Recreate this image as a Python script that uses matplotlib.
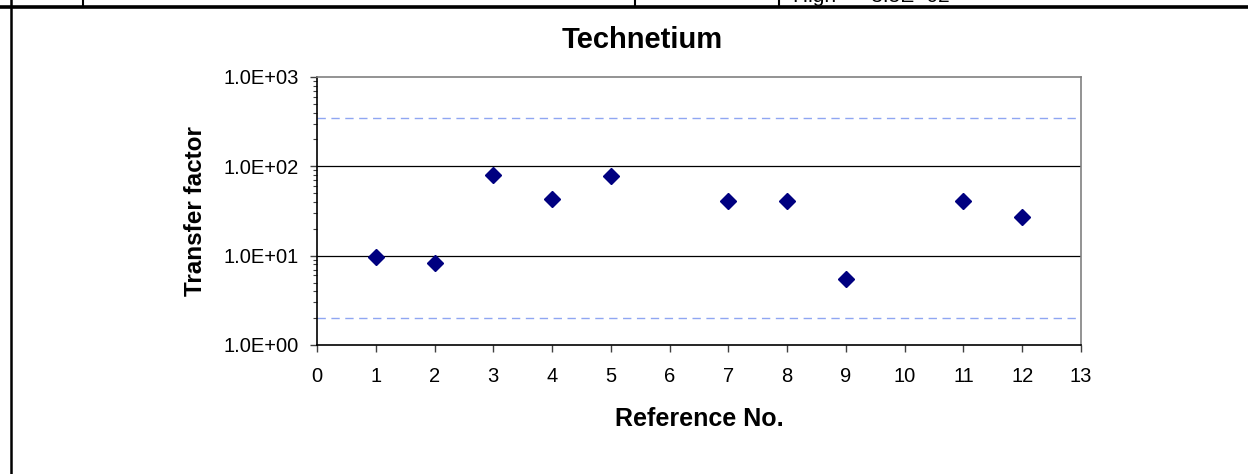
"""Technetium transfer factors vs reference number (log scale), with low/high limits."""

import matplotlib
matplotlib.use("Agg")
import matplotlib.pyplot as plt                 # noqa: E402
from matplotlib.lines import Line2D             # noqa: E402
from matplotlib.ticker import LogLocator, FixedLocator, NullFormatter  # noqa: E402

plt.rcParams["font.family"] = ["Liberation Sans", "DejaVu Sans"]

# data
ref_no = [1, 2, 3, 4, 5, 7, 8, 9, 11, 12]
transfer = [9.7, 8.3, 80, 43, 78, 41, 41, 5.5, 41, 27]
low_limit = 2.0
high_limit = 3.5e2
y_ticks = [1, 10, 100, 1000]
y_ticklabels = ["1.0E+00", "1.0E+01", "1.0E+02", "1.0E+03"]
x_ticks = list(range(0, 14))

W, H = 1248, 474
fig = plt.figure(figsize=(W / 100, H / 100), dpi=100)


def px(x0, y0, x1, y1):
    """pixel box (top-left origin) -> figure fraction rect"""
    return [x0 / W, 1 - y1 / H, (x1 - x0) / W, (y1 - y0) / H]


# page frame / table fragment at the top
def fline(xs, ys, lw):
    fig.add_artist(Line2D([x / W for x in xs], [1 - y / H for y in ys],
                          color="black", lw=lw, transform=fig.transFigure))


fline([0, W], [7, 7], 2.6)
fline([11, 11], [0, H], 1.8)
for xv in (83, 635, 779):
    fline([xv, xv], [0, 7], 1.5)
# only the lower edge of this table cell's text is visible in the reference
fig.text(793 / W, 1 - 2 / H, "High  =  3.5E+02", fontsize=15, va="baseline", ha="left")

ax = fig.add_axes(px(317, 77, 1081, 345))
ax.set_yscale("log")
ax.set_ylim(1, 1000)
ax.set_xlim(0, 13)

for v in y_ticks[1:3]:
    ax.axhline(v, color="black", lw=0.9, zorder=1)
for v in (low_limit, high_limit):
    ax.axhline(v, color="#8fa6f2", lw=1.0, ls=(0, (6, 4)), zorder=1)

ax.plot(ref_no, transfer, ls="none", marker="D", ms=8, color="#000080", zorder=3)

ax.yaxis.set_major_locator(FixedLocator(y_ticks))
ax.set_yticklabels(y_ticklabels)
ax.yaxis.set_minor_locator(LogLocator(base=10, subs=range(2, 10)))
ax.yaxis.set_minor_formatter(NullFormatter())
ax.set_xticks(x_ticks)

ax.tick_params(axis="both", which="major", direction="out", length=5, width=1,
               labelsize=14.5, color="#404040")
ax.tick_params(axis="y", which="minor", direction="out", length=3, width=0.8, color="#404040")
ax.tick_params(axis="x", pad=11)
ax.tick_params(axis="y", pad=8)

for side in ("top", "right"):
    ax.spines[side].set_color("#808080")
    ax.spines[side].set_linewidth(1.2)
for side in ("left", "bottom"):
    ax.spines[side].set_color("black")
    ax.spines[side].set_linewidth(1.2)

fig.text(723 / W, 1 - 48 / H, "Technetium", fontsize=21, fontweight="bold",
         ha="right", va="baseline")
fig.text(195 / W, 1 - 211 / H, "Transfer factor", fontsize=17.5, fontweight="bold",
         ha="center", va="center", rotation=90)
fig.text(699 / W, 1 - 426 / H, "Reference No.", fontsize=18, fontweight="bold",
         ha="center", va="baseline")

fig.savefig("out.png", dpi=100)
